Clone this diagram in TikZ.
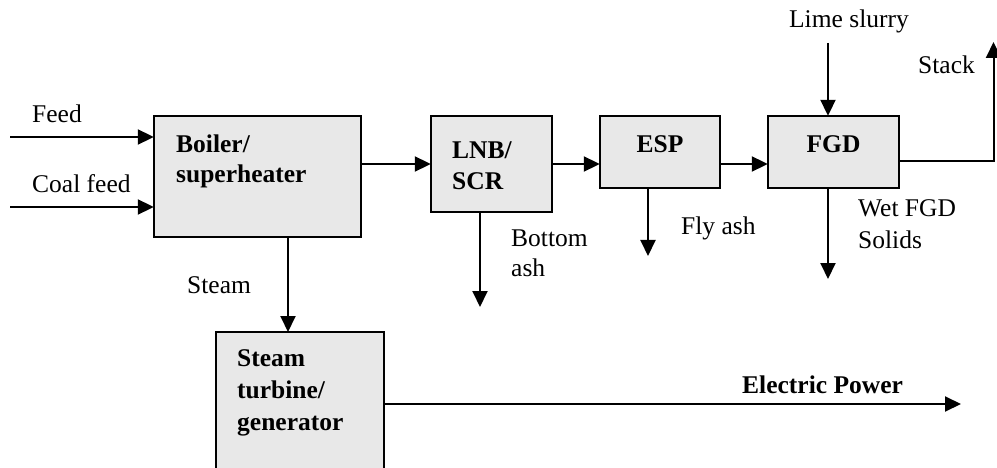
\documentclass[tikz,border=0pt]{standalone}
\usepackage{fontspec}
\setmainfont{Liberation Serif}
\usetikzlibrary{arrows.meta}
\definecolor{boxgray}{HTML}{E8E8E8}
\tikzset{
  unit/.style={draw=black, fill=boxgray, line width=1.6pt},
  lbl/.style={anchor=base west, inner sep=0pt, font=\fontsize{25.5}{30}\selectfont},
  blbl/.style={lbl, font=\fontsize{25.5}{30}\selectfont\bfseries},
  flow/.style={line width=2pt, -{Triangle[length=16pt,width=15pt]}},
  plain/.style={line width=2pt},
}
\begin{document}
\begin{tikzpicture}[x=1pt,y=-1pt]
\useasboundingbox (0,0) rectangle (997,468);
\clip (0,0) rectangle (997,468);
% boxes
\draw[unit] (154,116) rectangle (361,237);
\node[inner sep=0, minimum width=207pt, minimum height=121pt] (boiler) at (257.5,176.5) {};
\draw[unit] (431,116) rectangle (552,212);
\node[inner sep=0, minimum width=121pt, minimum height=96pt] (lnb) at (491.5,164) {};
\draw[unit] (600,116) rectangle (720,188);
\node[inner sep=0, minimum width=120pt, minimum height=72pt] (esp) at (660,152) {};
\draw[unit] (768,116) rectangle (899,188);
\node[inner sep=0, minimum width=131pt, minimum height=72pt] (fgd) at (833.5,152) {};
\draw[unit] (216,332) rectangle (384,490);
\node[inner sep=0, minimum width=168pt, minimum height=158pt] (turb) at (300,411) {};
% box texts
\node[blbl] (t1) at (176,153) {Boiler/};
\node[blbl] (t2) at (176,183) {superheater};
\node[blbl] (t3) at (452,159) {LNB/};
\node[blbl] (t4) at (452,190) {SCR};
\node[blbl, anchor=base] (t5) at (660,153) {ESP};
\node[blbl, anchor=base] (t6) at (833.5,153) {FGD};
\node[blbl] (t7) at (237,366.5) {Steam};
\node[blbl] (t8) at (237,398) {turbine/};
\node[blbl] (t9) at (237,430) {generator};
% stream labels
\node[lbl] (l1) at (32,123) {Feed};
\node[lbl] (l2) at (32,193) {Coal feed};
\node[lbl] (l3) at (187,293) {Steam};
\node[lbl] (l4) at (511,246.5) {Bottom};
\node[lbl] (l5) at (511,276.5) {ash};
\node[lbl] (l6) at (681,234) {Fly ash};
\node[lbl] (l7) at (858,216.5) {Wet FGD};
\node[lbl] (l8) at (858,248) {Solids};
\node[lbl, anchor=base] (l9) at (849,28) {Lime slurry};
\node[lbl] (l10) at (918,74) {Stack};
\node[blbl] (l11) at (742,393) {Electric Power};
% free ends
\coordinate (feedin) at (10,137);
\coordinate (coalin) at (10,207);
\coordinate (limein) at (828,43);
\coordinate (stackout) at (993.5,42);
\coordinate (bashout) at (480,307);
\coordinate (flyout) at (648,256);
\coordinate (wetout) at (828,279);
\coordinate (powerout) at (961,404);
\coordinate (gasy) at (0,164);
% connectors
\draw[flow] (feedin) -- (feedin -| boiler.west);
\draw[flow] (coalin) -- (coalin -| boiler.west);
\draw[flow] (boiler.east |- gasy) -- (lnb.west |- gasy);
\draw[flow] (lnb.east |- gasy) -- (esp.west |- gasy);
\draw[flow] (esp.east |- gasy) -- (fgd.west |- gasy);
\draw[flow] (limein) -- (limein |- fgd.north);
\draw[flow, line cap=rect] (fgd.east |- 0,161) -- (stackout |- 0,161) -- (stackout);
\draw[flow] (bashout |- lnb.south) -- (bashout);
\draw[flow] (flyout |- esp.south) -- (flyout);
\draw[flow] (wetout |- fgd.south) -- (wetout);
\draw[flow] (288,237) -- (288,332);
\draw[flow] (turb.east |- powerout) -- (powerout);
\end{tikzpicture}
\end{document}
